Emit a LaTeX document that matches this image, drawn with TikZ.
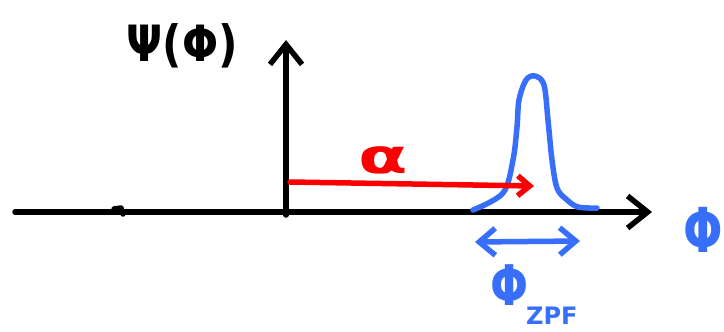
\documentclass[tikz,border=0pt]{standalone}
\usepackage{fontspec}
\setmainfont{DejaVu Sans}
\usetikzlibrary{arrows.meta}
\definecolor{sketchblue}{RGB}{55,110,250}
\definecolor{sketchred}{RGB}{250,0,0}
\tikzset{
  pen/.style={line width=5.5pt, line cap=round, line join=round},
  axis/.style={pen, black, -{Straight Barb[length=20pt,width=32pt,line width=5.5pt]}},
  lbl/.style={inner sep=0pt, font=\fontsize{#1}{#1}\selectfont},
  blbl/.style={inner sep=0pt, font=\bfseries\fontsize{#1}{#1}\selectfont},
}
\begin{document}
\begin{tikzpicture}[x=1pt,y=-1pt]
\useasboundingbox (0,0) rectangle (724,332);
% axes
\coordinate (xs) at (15,212);
\coordinate (xe) at (652,212);
\coordinate (ys) at (286,215);
\coordinate (ye) at (286,40);
\draw[axis] (xs) -- (xe);
\draw[pen] (114,209) -- (121,208) -- (123,214);
\draw[axis] (ys) -- (ye);
% labels
\node[blbl=50, xscale=0.85] (psi) at (182,46) {Ψ(Φ)};
\node[blbl=62, text=sketchblue, xscale=0.75] (phi) at (703,230) {Φ};
% Gaussian
\draw[pen, sketchblue] plot[smooth, tension=0.55] coordinates {(473,210) (503,193) (513,160) (517,127) (519,100) (526,80) (535,76) (544,85) (548,120) (552,160) (557,188) (566,199) (578,207) (597,208)};
% red arrow
\coordinate (as) at (290,182);
\coordinate (ae) at (534,186);
\draw[pen, sketchred, -{Straight Barb[length=12pt,width=20pt,line width=5.5pt]}] (as) -- (ae);
\node[blbl=48, text=sketchred, xscale=1.5] (alpha) at (383,160) {α};
% width arrow
\coordinate (ws) at (475,242);
\coordinate (we) at (580,241);
\draw[pen, sketchblue, {Straight Barb[length=16pt,width=27pt,line width=5.5pt]}-{Straight Barb[length=16pt,width=27pt,line width=5.5pt]}] (ws) -- (we);
\node[blbl=56, text=sketchblue, xscale=0.8] (zpf) at (510,285) {Φ};
\node[blbl=24, text=sketchblue, anchor=west] (zpfsub) at (526,316) {ZPF};
\end{tikzpicture}
\end{document}
